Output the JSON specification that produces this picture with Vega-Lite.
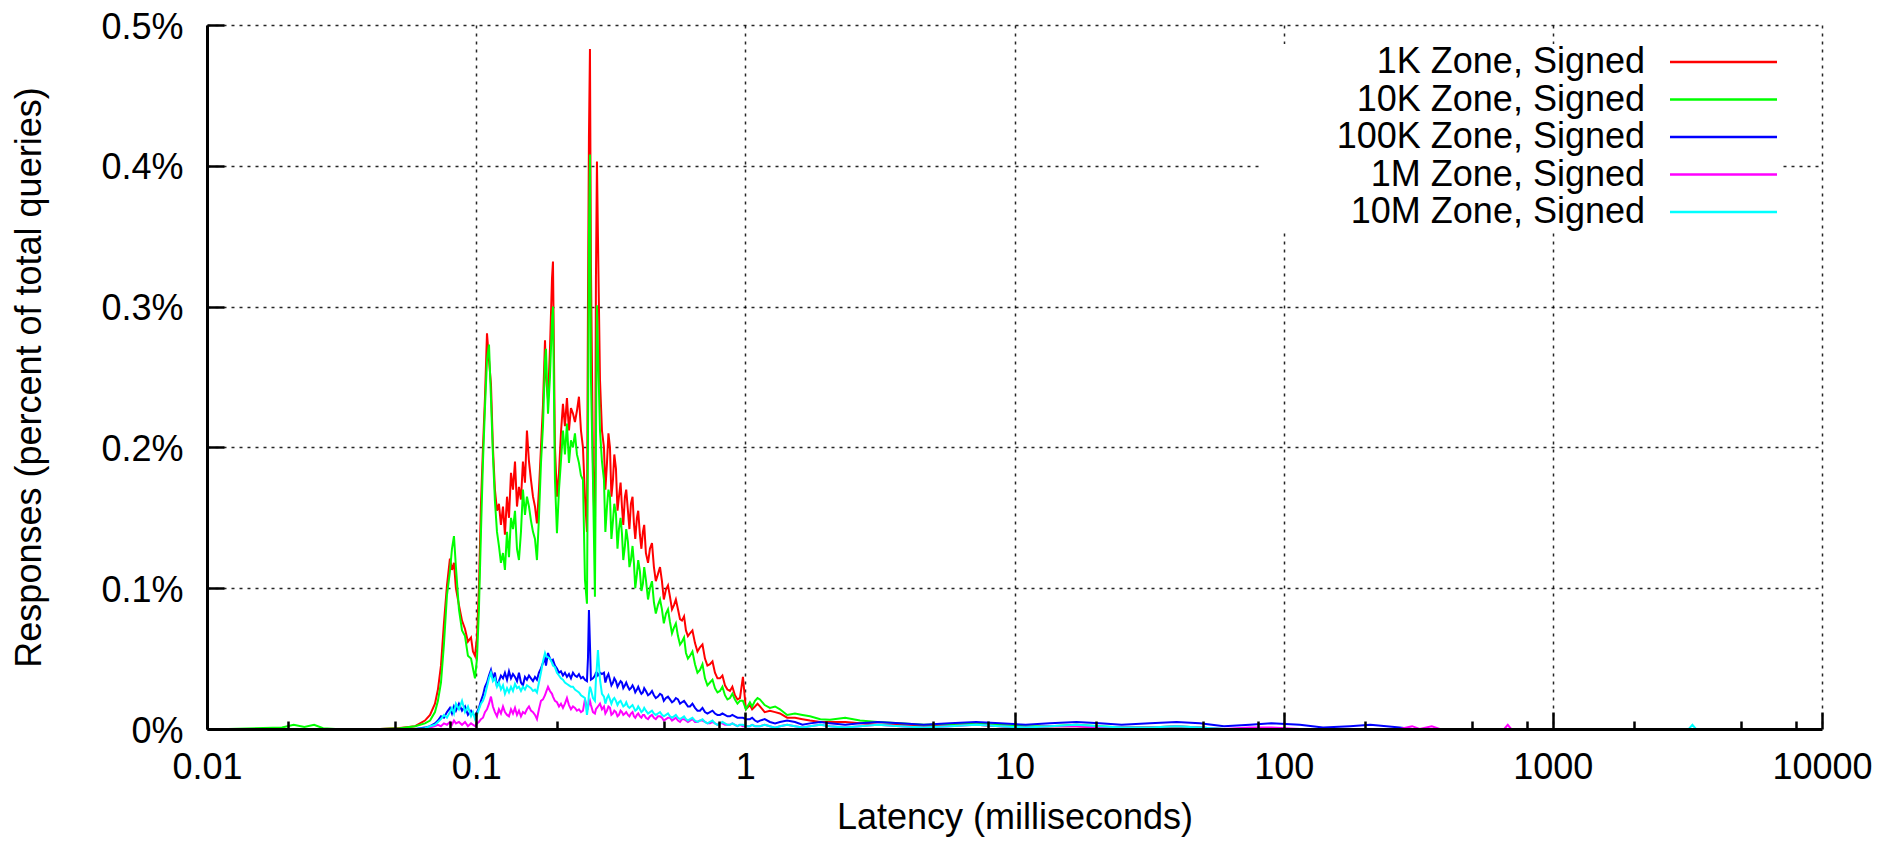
{
  "$schema": "https://vega.github.io/schema/vega-lite/v6.json",
  "width": 1615,
  "height": 704,
  "autosize": {"type": "none"},
  "padding": {"left": 207, "top": 25, "right": 62, "bottom": 115},
  "background": "white",
  "config": {"view": {"stroke": null}, "font": "Liberation Sans"},
  "data": {"values": [
    {"l":0.012,"1K":0,"10K":0,"100K":0,"1M":0,"10M":0},
    {"l":0.019,"1K":0,"10K":0.001,"100K":0,"1M":0,"10M":0},
    {"l":0.021,"1K":0,"10K":0.003,"100K":0,"1M":0,"10M":0},
    {"l":0.023,"1K":0,"10K":0.0015,"100K":0,"1M":0,"10M":0},
    {"l":0.025,"1K":0,"10K":0.003,"100K":0,"1M":0,"10M":0},
    {"l":0.027,"1K":0,"10K":0.0005,"100K":0,"1M":0,"10M":0},
    {"l":0.03,"1K":0,"10K":0,"100K":0,"1M":0,"10M":0},
    {"l":0.0439,"1K":0,"10K":0,"100K":0,"1M":0,"10M":0},
    {"l":0.0521,"1K":0.0008,"10K":0.0005,"100K":0,"1M":0,"10M":0},
    {"l":0.0593,"1K":0.002,"10K":0.002,"100K":0,"1M":0,"10M":0},
    {"l":0.0645,"1K":0.006,"10K":0.004,"100K":0.001,"1M":0,"10M":0.0005},
    {"l":0.0674,"1K":0.01,"10K":0.006,"100K":0.002,"1M":0.001,"10M":0.002},
    {"l":0.0703,"1K":0.018,"10K":0.012,"100K":0.004,"1M":0.002,"10M":0.003},
    {"l":0.0721,"1K":0.028,"10K":0.02,"100K":0.006,"1M":0.003,"10M":0.005},
    {"l":0.074,"1K":0.045,"10K":0.033,"100K":0.009,"1M":0.002,"10M":0.007},
    {"l":0.0759,"1K":0.075,"10K":0.06,"100K":0.008,"1M":0.004,"10M":0.01},
    {"l":0.0779,"1K":0.102,"10K":0.095,"100K":0.012,"1M":0.003,"10M":0.008},
    {"l":0.0799,"1K":0.121,"10K":0.112,"100K":0.015,"1M":0.005,"10M":0.012},
    {"l":0.0813,"1K":0.113,"10K":0.128,"100K":0.011,"1M":0.003,"10M":0.015},
    {"l":0.0827,"1K":0.118,"10K":0.137,"100K":0.016,"1M":0.006,"10M":0.011},
    {"l":0.0841,"1K":0.1,"10K":0.115,"100K":0.013,"1M":0.004,"10M":0.018},
    {"l":0.0863,"1K":0.088,"10K":0.085,"100K":0.018,"1M":0.005,"10M":0.014},
    {"l":0.0886,"1K":0.077,"10K":0.07,"100K":0.013,"1M":0.003,"10M":0.02},
    {"l":0.0909,"1K":0.071,"10K":0.066,"100K":0.016,"1M":0.005,"10M":0.012},
    {"l":0.0932,"1K":0.062,"10K":0.052,"100K":0.01,"1M":0.002,"10M":0.016},
    {"l":0.0957,"1K":0.065,"10K":0.05,"100K":0.013,"1M":0.004,"10M":0.009},
    {"l":0.0973,"1K":0.055,"10K":0.043,"100K":0.011,"1M":0.003,"10M":0.012},
    {"l":0.099,"1K":0.052,"10K":0.036,"100K":0.009,"1M":0.002,"10M":0.007},
    {"l":0.1007,"1K":0.065,"10K":0.05,"100K":0.012,"1M":0.004,"10M":0.01},
    {"l":0.1024,"1K":0.1,"10K":0.085,"100K":0.015,"1M":0.005,"10M":0.014},
    {"l":0.1042,"1K":0.16,"10K":0.14,"100K":0.02,"1M":0.007,"10M":0.018},
    {"l":0.106,"1K":0.2,"10K":0.19,"100K":0.024,"1M":0.008,"10M":0.02},
    {"l":0.1078,"1K":0.235,"10K":0.228,"100K":0.03,"1M":0.012,"10M":0.024},
    {"l":0.1097,"1K":0.281,"10K":0.262,"100K":0.033,"1M":0.014,"10M":0.03},
    {"l":0.1116,"1K":0.262,"10K":0.273,"100K":0.038,"1M":0.018,"10M":0.036},
    {"l":0.1135,"1K":0.245,"10K":0.235,"100K":0.042,"1M":0.023,"10M":0.04},
    {"l":0.1154,"1K":0.2,"10K":0.195,"100K":0.036,"1M":0.016,"10M":0.034},
    {"l":0.1174,"1K":0.17,"10K":0.162,"100K":0.04,"1M":0.012,"10M":0.036},
    {"l":0.1195,"1K":0.155,"10K":0.14,"100K":0.03,"1M":0.009,"10M":0.03},
    {"l":0.1215,"1K":0.16,"10K":0.13,"100K":0.034,"1M":0.014,"10M":0.033},
    {"l":0.1236,"1K":0.145,"10K":0.118,"100K":0.038,"1M":0.011,"10M":0.028},
    {"l":0.1258,"1K":0.158,"10K":0.125,"100K":0.036,"1M":0.016,"10M":0.031},
    {"l":0.1279,"1K":0.138,"10K":0.113,"100K":0.04,"1M":0.012,"10M":0.025},
    {"l":0.1302,"1K":0.165,"10K":0.14,"100K":0.035,"1M":0.01,"10M":0.029},
    {"l":0.1324,"1K":0.15,"10K":0.122,"100K":0.041,"1M":0.009,"10M":0.026},
    {"l":0.1347,"1K":0.182,"10K":0.15,"100K":0.036,"1M":0.014,"10M":0.03},
    {"l":0.137,"1K":0.17,"10K":0.142,"100K":0.039,"1M":0.011,"10M":0.027},
    {"l":0.1394,"1K":0.19,"10K":0.155,"100K":0.037,"1M":0.015,"10M":0.032},
    {"l":0.1418,"1K":0.158,"10K":0.128,"100K":0.034,"1M":0.01,"10M":0.029},
    {"l":0.1442,"1K":0.172,"10K":0.12,"100K":0.04,"1M":0.013,"10M":0.03},
    {"l":0.1467,"1K":0.163,"10K":0.14,"100K":0.033,"1M":0.009,"10M":0.027},
    {"l":0.1492,"1K":0.19,"10K":0.17,"100K":0.031,"1M":0.012,"10M":0.03},
    {"l":0.1518,"1K":0.175,"10K":0.152,"100K":0.037,"1M":0.011,"10M":0.028},
    {"l":0.1544,"1K":0.212,"10K":0.165,"100K":0.035,"1M":0.014,"10M":0.031},
    {"l":0.1571,"1K":0.19,"10K":0.158,"100K":0.038,"1M":0.016,"10M":0.03},
    {"l":0.1598,"1K":0.177,"10K":0.148,"100K":0.036,"1M":0.013,"10M":0.029},
    {"l":0.1626,"1K":0.165,"10K":0.14,"100K":0.034,"1M":0.012,"10M":0.027},
    {"l":0.1654,"1K":0.158,"10K":0.135,"100K":0.037,"1M":0.01,"10M":0.028},
    {"l":0.1682,"1K":0.146,"10K":0.12,"100K":0.035,"1M":0.007,"10M":0.026},
    {"l":0.1711,"1K":0.17,"10K":0.15,"100K":0.04,"1M":0.014,"10M":0.033},
    {"l":0.1741,"1K":0.2,"10K":0.189,"100K":0.043,"1M":0.02,"10M":0.04},
    {"l":0.1771,"1K":0.23,"10K":0.215,"100K":0.047,"1M":0.021,"10M":0.048},
    {"l":0.1802,"1K":0.276,"10K":0.262,"100K":0.05,"1M":0.024,"10M":0.054},
    {"l":0.1817,"1K":0.25,"10K":0.27,"100K":0.045,"1M":0.026,"10M":0.052},
    {"l":0.1849,"1K":0.234,"10K":0.224,"100K":0.054,"1M":0.03,"10M":0.051},
    {"l":0.188,"1K":0.27,"10K":0.25,"100K":0.05,"1M":0.027,"10M":0.05},
    {"l":0.1913,"1K":0.32,"10K":0.29,"100K":0.048,"1M":0.025,"10M":0.047},
    {"l":0.1929,"1K":0.332,"10K":0.3,"100K":0.049,"1M":0.023,"10M":0.045},
    {"l":0.1962,"1K":0.2,"10K":0.177,"100K":0.045,"1M":0.02,"10M":0.044},
    {"l":0.1996,"1K":0.165,"10K":0.139,"100K":0.043,"1M":0.019,"10M":0.04},
    {"l":0.2031,"1K":0.182,"10K":0.17,"100K":0.04,"1M":0.016,"10M":0.038},
    {"l":0.2065,"1K":0.21,"10K":0.19,"100K":0.041,"1M":0.018,"10M":0.036},
    {"l":0.2101,"1K":0.231,"10K":0.212,"100K":0.038,"1M":0.015,"10M":0.035},
    {"l":0.2137,"1K":0.215,"10K":0.195,"100K":0.04,"1M":0.018,"10M":0.033},
    {"l":0.2174,"1K":0.235,"10K":0.217,"100K":0.037,"1M":0.022,"10M":0.032},
    {"l":0.2212,"1K":0.212,"10K":0.189,"100K":0.039,"1M":0.017,"10M":0.031},
    {"l":0.225,"1K":0.228,"10K":0.205,"100K":0.036,"1M":0.014,"10M":0.03},
    {"l":0.2289,"1K":0.224,"10K":0.2,"100K":0.04,"1M":0.016,"10M":0.03},
    {"l":0.2328,"1K":0.218,"10K":0.21,"100K":0.038,"1M":0.015,"10M":0.028},
    {"l":0.2368,"1K":0.226,"10K":0.195,"100K":0.037,"1M":0.013,"10M":0.027},
    {"l":0.2409,"1K":0.236,"10K":0.189,"100K":0.039,"1M":0.014,"10M":0.026},
    {"l":0.2451,"1K":0.212,"10K":0.18,"100K":0.036,"1M":0.012,"10M":0.024},
    {"l":0.2493,"1K":0.2,"10K":0.177,"100K":0.037,"1M":0.013,"10M":0.023},
    {"l":0.2536,"1K":0.165,"10K":0.106,"100K":0.035,"1M":0.021,"10M":0.022},
    {"l":0.258,"1K":0.14,"10K":0.089,"100K":0.034,"1M":0.016,"10M":0.01},
    {"l":0.2602,"1K":0.3,"10K":0.2,"100K":0.05,"1M":0.015,"10M":0.015},
    {"l":0.2624,"1K":0.42,"10K":0.35,"100K":0.0845,"1M":0.018,"10M":0.025},
    {"l":0.2647,"1K":0.483,"10K":0.408,"100K":0.06,"1M":0.02,"10M":0.03},
    {"l":0.2669,"1K":0.33,"10K":0.25,"100K":0.035,"1M":0.017,"10M":0.028},
    {"l":0.2716,"1K":0.189,"10K":0.177,"100K":0.036,"1M":0.012,"10M":0.022},
    {"l":0.2762,"1K":0.13,"10K":0.094,"100K":0.038,"1M":0.011,"10M":0.02},
    {"l":0.2786,"1K":0.32,"10K":0.2,"100K":0.04,"1M":0.014,"10M":0.035},
    {"l":0.281,"1K":0.403,"10K":0.301,"100K":0.04,"1M":0.015,"10M":0.045},
    {"l":0.2834,"1K":0.35,"10K":0.27,"100K":0.038,"1M":0.016,"10M":0.056},
    {"l":0.2884,"1K":0.248,"10K":0.212,"100K":0.04,"1M":0.018,"10M":0.035},
    {"l":0.2933,"1K":0.212,"10K":0.19,"100K":0.039,"1M":0.014,"10M":0.025},
    {"l":0.2984,"1K":0.2,"10K":0.177,"100K":0.04,"1M":0.016,"10M":0.023},
    {"l":0.302,"1K":0.17,"10K":0.14,"100K":0.033,"1M":0.011,"10M":0.018},
    {"l":0.3062,"1K":0.189,"10K":0.158,"100K":0.037,"1M":0.013,"10M":0.022},
    {"l":0.31,"1K":0.21,"10K":0.17,"100K":0.039,"1M":0.016,"10M":0.024},
    {"l":0.3141,"1K":0.2,"10K":0.165,"100K":0.035,"1M":0.015,"10M":0.021},
    {"l":0.318,"1K":0.165,"10K":0.135,"100K":0.031,"1M":0.01,"10M":0.018},
    {"l":0.3223,"1K":0.177,"10K":0.148,"100K":0.033,"1M":0.011,"10M":0.021},
    {"l":0.326,"1K":0.195,"10K":0.16,"100K":0.036,"1M":0.013,"10M":0.022},
    {"l":0.3306,"1K":0.185,"10K":0.153,"100K":0.034,"1M":0.012,"10M":0.02},
    {"l":0.335,"1K":0.155,"10K":0.128,"100K":0.03,"1M":0.009,"10M":0.017},
    {"l":0.3392,"1K":0.165,"10K":0.142,"100K":0.032,"1M":0.01,"10M":0.019},
    {"l":0.344,"1K":0.175,"10K":0.15,"100K":0.034,"1M":0.013,"10M":0.02},
    {"l":0.348,"1K":0.158,"10K":0.139,"100K":0.033,"1M":0.012,"10M":0.018},
    {"l":0.352,"1K":0.145,"10K":0.12,"100K":0.029,"1M":0.01,"10M":0.016},
    {"l":0.357,"1K":0.165,"10K":0.13,"100K":0.031,"1M":0.011,"10M":0.017},
    {"l":0.361,"1K":0.17,"10K":0.142,"100K":0.033,"1M":0.012,"10M":0.019},
    {"l":0.3663,"1K":0.155,"10K":0.133,"100K":0.03,"1M":0.01,"10M":0.016},
    {"l":0.371,"1K":0.142,"10K":0.115,"100K":0.028,"1M":0.009,"10M":0.015},
    {"l":0.3758,"1K":0.16,"10K":0.12,"100K":0.029,"1M":0.011,"10M":0.016},
    {"l":0.381,"1K":0.165,"10K":0.13,"100K":0.031,"1M":0.012,"10M":0.017},
    {"l":0.3856,"1K":0.146,"10K":0.118,"100K":0.029,"1M":0.009,"10M":0.015},
    {"l":0.39,"1K":0.135,"10K":0.1,"100K":0.026,"1M":0.008,"10M":0.013},
    {"l":0.3955,"1K":0.15,"10K":0.11,"100K":0.028,"1M":0.01,"10M":0.014},
    {"l":0.4,"1K":0.155,"10K":0.12,"100K":0.03,"1M":0.011,"10M":0.016},
    {"l":0.4058,"1K":0.138,"10K":0.112,"100K":0.027,"1M":0.009,"10M":0.014},
    {"l":0.411,"1K":0.128,"10K":0.098,"100K":0.025,"1M":0.008,"10M":0.012},
    {"l":0.4163,"1K":0.14,"10K":0.103,"100K":0.026,"1M":0.01,"10M":0.013},
    {"l":0.421,"1K":0.145,"10K":0.115,"100K":0.029,"1M":0.01,"10M":0.015},
    {"l":0.4272,"1K":0.125,"10K":0.106,"100K":0.027,"1M":0.008,"10M":0.013},
    {"l":0.435,"1K":0.118,"10K":0.092,"100K":0.024,"1M":0.007,"10M":0.011},
    {"l":0.4421,"1K":0.128,"10K":0.1,"100K":0.025,"1M":0.009,"10M":0.012},
    {"l":0.45,"1K":0.132,"10K":0.105,"100K":0.027,"1M":0.01,"10M":0.013},
    {"l":0.4575,"1K":0.115,"10K":0.09,"100K":0.024,"1M":0.008,"10M":0.011},
    {"l":0.465,"1K":0.105,"10K":0.082,"100K":0.022,"1M":0.007,"10M":0.01},
    {"l":0.4735,"1K":0.11,"10K":0.088,"100K":0.023,"1M":0.009,"10M":0.011},
    {"l":0.482,"1K":0.115,"10K":0.092,"100K":0.025,"1M":0.009,"10M":0.012},
    {"l":0.49,"1K":0.105,"10K":0.085,"100K":0.024,"1M":0.008,"10M":0.01},
    {"l":0.498,"1K":0.092,"10K":0.075,"100K":0.02,"1M":0.006,"10M":0.009},
    {"l":0.5071,"1K":0.099,"10K":0.082,"100K":0.022,"1M":0.007,"10M":0.01},
    {"l":0.516,"1K":0.102,"10K":0.085,"100K":0.023,"1M":0.008,"10M":0.011},
    {"l":0.5248,"1K":0.094,"10K":0.076,"100K":0.021,"1M":0.008,"10M":0.009},
    {"l":0.534,"1K":0.085,"10K":0.068,"100K":0.019,"1M":0.006,"10M":0.008},
    {"l":0.5431,"1K":0.088,"10K":0.072,"100K":0.02,"1M":0.007,"10M":0.009},
    {"l":0.552,"1K":0.092,"10K":0.075,"100K":0.022,"1M":0.008,"10M":0.01},
    {"l":0.562,"1K":0.085,"10K":0.066,"100K":0.021,"1M":0.006,"10M":0.008},
    {"l":0.572,"1K":0.078,"10K":0.06,"100K":0.018,"1M":0.005,"10M":0.007},
    {"l":0.5816,"1K":0.077,"10K":0.062,"100K":0.019,"1M":0.007,"10M":0.008},
    {"l":0.592,"1K":0.08,"10K":0.065,"100K":0.02,"1M":0.007,"10M":0.009},
    {"l":0.6018,"1K":0.07,"10K":0.054,"100K":0.018,"1M":0.006,"10M":0.007},
    {"l":0.612,"1K":0.066,"10K":0.05,"100K":0.016,"1M":0.005,"10M":0.006},
    {"l":0.6229,"1K":0.068,"10K":0.052,"100K":0.016,"1M":0.006,"10M":0.007},
    {"l":0.636,"1K":0.07,"10K":0.055,"100K":0.018,"1M":0.007,"10M":0.008},
    {"l":0.6501,"1K":0.061,"10K":0.046,"100K":0.015,"1M":0.005,"10M":0.006},
    {"l":0.664,"1K":0.055,"10K":0.04,"100K":0.013,"1M":0.005,"10M":0.005},
    {"l":0.6784,"1K":0.058,"10K":0.042,"100K":0.013,"1M":0.006,"10M":0.006},
    {"l":0.693,"1K":0.06,"10K":0.046,"100K":0.015,"1M":0.006,"10M":0.007},
    {"l":0.708,"1K":0.05,"10K":0.036,"100K":0.012,"1M":0.005,"10M":0.005},
    {"l":0.723,"1K":0.045,"10K":0.031,"100K":0.011,"1M":0.004,"10M":0.004},
    {"l":0.7389,"1K":0.046,"10K":0.033,"100K":0.012,"1M":0.004,"10M":0.005},
    {"l":0.755,"1K":0.048,"10K":0.035,"100K":0.013,"1M":0.005,"10M":0.006},
    {"l":0.7712,"1K":0.04,"10K":0.029,"100K":0.011,"1M":0.004,"10M":0.004},
    {"l":0.788,"1K":0.036,"10K":0.026,"100K":0.01,"1M":0.003,"10M":0.003},
    {"l":0.8049,"1K":0.036,"10K":0.027,"100K":0.01,"1M":0.004,"10M":0.004},
    {"l":0.822,"1K":0.038,"10K":0.03,"100K":0.011,"1M":0.004,"10M":0.005},
    {"l":0.84,"1K":0.031,"10K":0.024,"100K":0.01,"1M":0.003,"10M":0.004},
    {"l":0.858,"1K":0.028,"10K":0.021,"100K":0.009,"1M":0.003,"10M":0.003},
    {"l":0.8766,"1K":0.027,"10K":0.022,"100K":0.009,"1M":0.003,"10M":0.003},
    {"l":0.895,"1K":0.03,"10K":0.025,"100K":0.01,"1M":0.004,"10M":0.004},
    {"l":0.9149,"1K":0.024,"10K":0.021,"100K":0.009,"1M":0.003,"10M":0.003},
    {"l":0.935,"1K":0.021,"10K":0.018,"100K":0.008,"1M":0.002,"10M":0.002},
    {"l":0.955,"1K":0.022,"10K":0.02,"100K":0.008,"1M":0.003,"10M":0.003},
    {"l":0.9797,"1K":0.037,"10K":0.02,"100K":0.008,"1M":0.002,"10M":0.003},
    {"l":1.005,"1K":0.014,"10K":0.014,"100K":0.007,"1M":0.002,"10M":0.002},
    {"l":1.04,"1K":0.017,"10K":0.019,"100K":0.007,"1M":0.002,"10M":0.002},
    {"l":1.06,"1K":0.014,"10K":0.016,"100K":0.008,"1M":0.003,"10M":0.003},
    {"l":1.086,"1K":0.016,"10K":0.02,"100K":0.006,"1M":0.002,"10M":0.002},
    {"l":1.11,"1K":0.018,"10K":0.022,"100K":0.005,"1M":0.002,"10M":0.002},
    {"l":1.133,"1K":0.016,"10K":0.021,"100K":0.006,"1M":0.002,"10M":0.002},
    {"l":1.18,"1K":0.012,"10K":0.017,"100K":0.007,"1M":0.003,"10M":0.003},
    {"l":1.234,"1K":0.013,"10K":0.015,"100K":0.005,"1M":0.002,"10M":0.002},
    {"l":1.29,"1K":0.012,"10K":0.016,"100K":0.004,"1M":0.001,"10M":0.001},
    {"l":1.345,"1K":0.011,"10K":0.014,"100K":0.005,"1M":0.002,"10M":0.002},
    {"l":1.43,"1K":0.008,"10K":0.01,"100K":0.006,"1M":0.003,"10M":0.003},
    {"l":1.529,"1K":0.008,"10K":0.011,"100K":0.005,"1M":0.002,"10M":0.002},
    {"l":1.63,"1K":0.007,"10K":0.01,"100K":0.003,"1M":0.001,"10M":0.001},
    {"l":1.738,"1K":0.006,"10K":0.009,"100K":0.004,"1M":0.002,"10M":0.002},
    {"l":1.9,"1K":0.005,"10K":0.007,"100K":0.005,"1M":0.003,"10M":0.003},
    {"l":2.062,"1K":0.005,"10K":0.0065,"100K":0.004,"1M":0.002,"10M":0.002},
    {"l":2.35,"1K":0.005,"10K":0.008,"100K":0.003,"1M":0.001,"10M":0.001},
    {"l":2.666,"1K":0.004,"10K":0.006,"100K":0.004,"1M":0.002,"10M":0.002},
    {"l":3.1,"1K":0.003,"10K":0.005,"100K":0.005,"1M":0.003,"10M":0.003},
    {"l":3.752,"1K":0.003,"10K":0.004,"100K":0.004,"1M":0.002,"10M":0.002},
    {"l":4.6,"1K":0.002,"10K":0.003,"100K":0.003,"1M":0.001,"10M":0.001},
    {"l":5.754,"1K":0.003,"10K":0.0035,"100K":0.004,"1M":0.002,"10M":0.002},
    {"l":7.2,"1K":0.003,"10K":0.004,"100K":0.005,"1M":0.003,"10M":0.003},
    {"l":8.83,"1K":0.002,"10K":0.003,"100K":0.004,"1M":0.002,"10M":0.002},
    {"l":11,"1K":0.001,"10K":0.002,"100K":0.003,"1M":0.001,"10M":0.001},
    {"l":13.53,"1K":0.002,"10K":0.002,"100K":0.004,"1M":0.002,"10M":0.002},
    {"l":17,"1K":0.002,"10K":0.003,"100K":0.005,"1M":0.002,"10M":0.003},
    {"l":20.76,"1K":0.001,"10K":0.002,"100K":0.004,"1M":0.001,"10M":0.002},
    {"l":25,"1K":0.001,"10K":0.001,"100K":0.003,"1M":0.001,"10M":0.001},
    {"l":31.85,"1K":0.001,"10K":0.001,"100K":0.004,"1M":0.001,"10M":0.001},
    {"l":40,"1K":0.001,"10K":0.002,"100K":0.005,"1M":0.002,"10M":0.002},
    {"l":48.84,"1K":0,"10K":0.001,"100K":0.004,"1M":0.001,"10M":0.001},
    {"l":60,"1K":0,"10K":0,"100K":0.002,"1M":0,"10M":0},
    {"l":74.89,"1K":0,"10K":0,"100K":0.003,"1M":0.001,"10M":0},
    {"l":90,"1K":0,"10K":0,"100K":0.004,"1M":0.001,"10M":0},
    {"l":114.9,"1K":0,"10K":0,"100K":0.003,"1M":0,"10M":0},
    {"l":140,"1K":0,"10K":0,"100K":0.001,"1M":0,"10M":0},
    {"l":176.2,"1K":0,"10K":0,"100K":0.002,"1M":0,"10M":0},
    {"l":210,"1K":0,"10K":0,"100K":0.003,"1M":0,"10M":0},
    {"l":270,"1K":0,"10K":0,"100K":0.001,"1M":0,"10M":0},
    {"l":300,"1K":0,"10K":0,"100K":0,"1M":0.002,"10M":0},
    {"l":320,"1K":0,"10K":0,"100K":0,"1M":0,"10M":0},
    {"l":355,"1K":0,"10K":0,"100K":0,"1M":0.002,"10M":0},
    {"l":380,"1K":0,"10K":0,"100K":0,"1M":0,"10M":0},
    {"l":660,"1K":0,"10K":0,"100K":0,"1M":0,"10M":0},
    {"l":680,"1K":0,"10K":0,"100K":0,"1M":0.003,"10M":0},
    {"l":700,"1K":0,"10K":0,"100K":0,"1M":0,"10M":0},
    {"l":3200,"1K":0,"10K":0,"100K":0,"1M":0,"10M":0},
    {"l":3300,"1K":0,"10K":0,"100K":0,"1M":0,"10M":0.003},
    {"l":3400,"1K":0,"10K":0,"100K":0,"1M":0,"10M":0},
    {"l":10000,"1K":0,"10K":0,"100K":0,"1M":0,"10M":0}
  ]},
  "transform": [{"fold": ["1K", "10K", "100K", "1M", "10M"], "as": ["zone", "pct"]}],
  "layer": [
    {
      "mark": {"type": "line", "strokeWidth": 2, "clip": true},
      "encoding": {
        "x": {
          "field": "l", "type": "quantitative",
          "scale": {"type": "log", "domain": [0.01, 10000], "nice": false},
          "axis": {
            "orient": "bottom", "zindex": 0, "grid": true, "domain": false, "ticks": false, "labels": false, "title": null,
            "values": [0.01, 0.1, 1, 10, 100, 1000, 10000],
            "gridDash": [3, 5], "gridColor": "#000000", "gridWidth": 1.5, "gridOpacity": 0.85
          }
        },
        "y": {
          "field": "pct", "type": "quantitative",
          "scale": {"domain": [0, 0.5], "nice": false, "zero": true},
          "axis": {
            "orient": "left", "zindex": 0, "grid": true, "domain": false, "ticks": false, "labels": false, "title": null,
            "values": [0.1, 0.2, 0.3, 0.4, 0.5],
            "gridDash": [3, 5], "gridColor": "#000000", "gridWidth": 1.5, "gridOpacity": 0.85
          }
        },
        "color": {
          "field": "zone", "type": "nominal",
          "scale": {"domain": ["1K", "10K", "100K", "1M", "10M"], "range": ["#ff0000", "#00ff00", "#0000ff", "#ff00ff", "#00ffff"]},
          "legend": {
            "orient": "none", "legendX": 1055, "legendY": 19, "title": null,
            "labelExpr": "datum.label + ' Zone, Signed'",
            "labelFont": "Liberation Sans", "labelFontSize": 36, "labelColor": "#000000",
            "labelAlign": "right", "labelOffset": 347, "labelLimit": 600,
            "symbolType": "M78,0H99.4", "symbolSize": 100, "symbolStrokeWidth": 2.5,
            "rowPadding": 1.5, "padding": 0, "fillColor": "white", "strokeColor": null
          }
        }
      }
    },
    {
      "mark": {"type": "point", "opacity": 0, "size": 1},
      "encoding": {
        "x": {
          "field": "l", "type": "quantitative",
          "scale": {"type": "log", "domain": [0.01, 10000], "nice": false},
          "axis": {
            "orient": "bottom", "zindex": 1, "grid": false,
            "values": [0.01, 0.02, 0.05, 0.08, 0.1, 0.2, 0.5, 0.8, 1, 2, 5, 8, 10, 20, 50, 80, 100, 200, 500, 800, 1000, 2000, 5000, 8000, 10000],
            "labelExpr": "abs(log(datum.value)/LN10 - round(log(datum.value)/LN10)) < 0.001 ? format(datum.value, '~g') : ''",
            "tickSize": {"condition": {"test": "abs(log(datum.value)/LN10 - round(log(datum.value)/LN10)) < 0.001", "value": -17}, "value": -8},
            "tickWidth": 2.5, "tickColor": "#000000", "domainColor": "#000000", "domainWidth": 3,
            "labelFont": "Liberation Sans", "labelFontSize": 36, "labelColor": "#000000", "labelPadding": 38,
            "labelFlush": false, "labelOverlap": false, "labelBound": false,
            "title": "Latency (milliseconds)", "titleFont": "Liberation Sans", "titleFontSize": 36, "titleFontWeight": "normal", "titleColor": "#000000", "titlePadding": 6
          }
        },
        "y": {
          "field": "pct", "type": "quantitative",
          "scale": {"domain": [0, 0.5], "nice": false, "zero": true},
          "axis": {
            "orient": "left", "zindex": 1, "grid": false,
            "values": [0, 0.1, 0.2, 0.3, 0.4, 0.5],
            "labelExpr": "datum.value == 0 ? '0%' : format(datum.value, '.1f') + '%'",
            "tickSize": -17, "tickWidth": 2.5, "tickColor": "#000000", "domainColor": "#000000", "domainWidth": 3,
            "labelFont": "Liberation Sans", "labelFontSize": 36, "labelColor": "#000000", "labelPadding": 41, "labelOffset": 2,
            "labelFlush": false, "labelOverlap": false, "labelBound": false,
            "title": "Responses (percent of total queries)", "titleFont": "Liberation Sans", "titleFontSize": 36, "titleFontWeight": "normal", "titleColor": "#000000", "titlePadding": 52
          }
        }
      }
    }
  ],
  "resolve": {"axis": {"x": "independent", "y": "independent"}}
}
